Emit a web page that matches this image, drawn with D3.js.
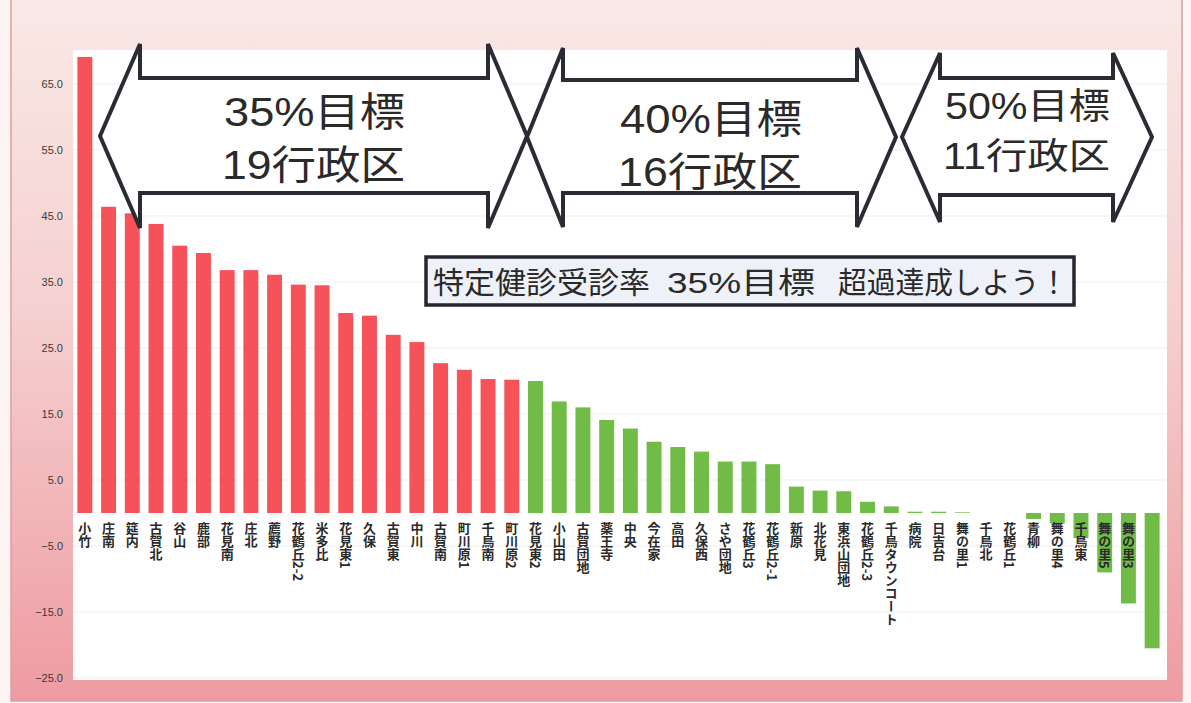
<!DOCTYPE html>
<html lang="ja">
<head>
  <meta charset="UTF-8">
  <title>特定健診受診率 行政区別</title>
  <script src="https://d3js.org/d3.v7.min.js"></script>
  <style>
    body {
      margin: 0;
      padding: 0;
      background: #fcf4f3;
      overflow: hidden;
    }
    svg {
      display: block;
    }
    .ytick {
      font-family: 'Liberation Sans', 'DejaVu Sans', sans-serif;
      font-size: 11px;
      fill: #3a3a3a;
    }
    .xlabel {
      font-family: 'Noto Sans CJK JP', sans-serif;
      font-size: 13px;
      font-weight: 700;
      fill: #2a2a2a;
    }
    .big {
      font-family: 'Liberation Sans', 'Noto Sans CJK JP', sans-serif;
      fill: #2a2a2a;
    }
    .slogan {
      font-family: 'Liberation Sans', 'Noto Sans CJK JP', sans-serif;
      font-size: 30px;
      fill: #2a2a2a;
    }
  </style>
</head>
<body>
  <svg id="chart" width="1191" height="703"></svg>
  <script>
    // 行政区 (sorted by rate, descending)
    const districts = [
      "小竹", "庄南", "筵内", "古賀北", "谷山", "鹿部", "花見南", "庄北", "薦野", "花鶴丘2-2",
      "米多比", "花見東1", "久保", "古賀東", "中川", "古賀南", "町川原1", "千鳥南", "町川原2",
      "花見東2", "小山田", "古賀団地", "薬王寺", "中央", "今在家", "高田", "久保西", "さや団地",
      "花鶴丘3", "花鶴丘2-1", "新原", "北花見", "東浜山団地", "花鶴丘2-3", "千鳥タウンコート",
      "病院", "日吉台", "舞の里1", "千鳥北", "花鶴丘1", "青柳", "舞の里4", "千鳥東", "舞の里5",
      "舞の里3", ""
    ];
    const rates = [
      69.1, 46.4, 45.4, 43.8, 40.5, 39.4, 36.8, 36.8, 36.1, 34.6,
      34.5, 30.3, 29.9, 27.0, 25.9, 22.7, 21.7, 20.3, 20.2,
      20.0, 16.9, 16.0, 14.1, 12.8, 10.8, 10.0, 9.3, 7.8,
      7.8, 7.4, 4.0, 3.4, 3.3, 1.7, 1.0,
      0.2, 0.2, 0.1, 0.0, 0.0, -0.9, -1.6, -3.8, -9.0,
      -13.7, -20.5
    ];
    const groupSizes = [19, 16, 11];
    const groupColors = ["#f5525a", "#70bc46", "#70bc46"];
    const targetLabels = ["35%目標", "40%目標", "50%目標"];
    const districtCountLabels = ["19行政区", "16行政区", "11行政区"];
    const yTicks = [-25, -15, -5, 5, 15, 25, 35, 45, 55, 65];
    const slogan = ["特定健診受診率", "35%目標", "超過達成しよう！"];

    const plot = { left: 73, right: 1167, top: 50, bottom: 680 };

    const svg = d3.select("#chart");
    const defs = svg.append("defs");

    const grad = defs.append("linearGradient")
      .attr("id", "frameGrad")
      .attr("x1", 0).attr("y1", 0).attr("x2", 0).attr("y2", 1);
    grad.append("stop").attr("offset", "0%").attr("stop-color", "#f9e9e6");
    grad.append("stop").attr("offset", "45%").attr("stop-color", "#f5d0d0");
    grad.append("stop").attr("offset", "100%").attr("stop-color", "#ee9ba2");

    // pink frame + white plot area
    svg.append("rect")
      .attr("x", 11).attr("y", -2)
      .attr("width", 1171).attr("height", 703)
      .attr("fill", "url(#frameGrad)")
      .attr("stroke", "#dc9ea2")
      .attr("stroke-width", 1.5);

    svg.append("rect")
      .attr("x", plot.left).attr("y", plot.top)
      .attr("width", plot.right - plot.left).attr("height", plot.bottom - plot.top)
      .attr("fill", "#ffffff");

    const x = d3.scaleBand()
      .domain(d3.range(districts.length))
      .range([73, 1164])
      .paddingInner(0.37)
      .paddingOuter(0.185);

    const y = d3.scaleLinear()
      .domain([-25.3, 70.15])
      .range([plot.bottom, plot.top]);

    const colorOf = i => {
      let acc = 0;
      for (let g = 0; g < groupSizes.length; g++) {
        acc += groupSizes[g];
        if (i < acc) return groupColors[g];
      }
      return groupColors[groupColors.length - 1];
    };

    // gridlines
    svg.append("g")
      .selectAll("line")
      .data(yTicks)
      .join("line")
      .attr("x1", plot.left).attr("x2", plot.right)
      .attr("y1", d => y(d)).attr("y2", d => y(d))
      .attr("stroke", "#efefef")
      .attr("stroke-width", 1);

    // y axis labels
    const yAxis = d3.axisLeft(y)
      .tickValues(yTicks)
      .tickFormat(d3.format(".1f"))
      .tickSize(0)
      .tickPadding(0);
    const yg = svg.append("g")
      .attr("transform", "translate(63,0)")
      .call(yAxis);
    yg.select(".domain").remove();
    yg.selectAll("text").attr("class", "ytick").attr("font-size", null).attr("font-family", null);

    // bars
    svg.append("g")
      .selectAll("rect")
      .data(rates)
      .join("rect")
      .attr("x", (d, i) => x(i))
      .attr("width", x.bandwidth())
      .attr("y", d => y(Math.max(0, d)))
      .attr("height", d => Math.abs(y(d) - y(0)))
      .attr("fill", (d, i) => colorOf(i));

    // category labels (vertical)
    svg.append("g")
      .selectAll("text")
      .data(districts)
      .join("text")
      .attr("class", "xlabel")
      .attr("x", (d, i) => x(i) + x.bandwidth() / 2)
      .attr("y", y(0) + 9)
      .style("writing-mode", "vertical-rl")
      .text(d => d);

    // double-headed arrows marking the target groups
    const arrows = [
      { xl: 100, xr: 527, bl: 140, br: 488, ht: 44, hb: 228, st: 78, sb: 193, cy: 136,
        fs: 40, tx: 224, tw: 181, b1: 126, b2: 179 },
      { xl: 527, xr: 896, bl: 563, br: 857, ht: 48, hb: 227, st: 80, sb: 193, cy: 137,
        fs: 40, tx: 620, tw: 182, b1: 133, b2: 186 },
      { xl: 902, xr: 1152, bl: 940, br: 1113, ht: 53, hb: 222, st: 78, sb: 195, cy: 137,
        fs: 36, tx: 945, tw: 165, b1: 119, b2: 169 }
    ];

    const arrowPath = a => {
      const p = d3.path();
      p.moveTo(a.xl, a.cy);
      p.lineTo(a.bl, a.ht);
      p.lineTo(a.bl, a.st);
      p.lineTo(a.br, a.st);
      p.lineTo(a.br, a.ht);
      p.lineTo(a.xr, a.cy);
      p.lineTo(a.br, a.hb);
      p.lineTo(a.br, a.sb);
      p.lineTo(a.bl, a.sb);
      p.lineTo(a.bl, a.hb);
      p.closePath();
      return p.toString();
    };

    const ag = svg.append("g");
    ag.selectAll("path")
      .data(arrows)
      .join("path")
      .attr("d", arrowPath)
      .attr("fill", "#ffffff")
      .attr("stroke", "#2b2b33")
      .attr("stroke-width", 4)
      .attr("stroke-linejoin", "miter");

    ag.selectAll("text.t1")
      .data(arrows)
      .join("text")
      .attr("class", "big t1")
      .attr("x", d => d.tx)
      .attr("y", d => d.b1)
      .attr("font-size", d => d.fs)
      .attr("textLength", d => d.tw)
      .attr("lengthAdjust", "spacingAndGlyphs")
      .text((d, i) => targetLabels[i]);

    ag.selectAll("text.t2")
      .data(arrows)
      .join("text")
      .attr("class", "big t2")
      .attr("x", d => d.tx - 2)
      .attr("y", d => d.b2)
      .attr("font-size", d => d.fs)
      .attr("textLength", d => d.tw + 2)
      .attr("lengthAdjust", "spacingAndGlyphs")
      .text((d, i) => districtCountLabels[i]);

    // slogan box
    const box = svg.append("g");
    box.append("rect")
      .attr("x", 426).attr("y", 257)
      .attr("width", 648).attr("height", 48)
      .attr("fill", "#eef1f7")
      .attr("stroke", "#26262e")
      .attr("stroke-width", 3.5);

    const sloganX = [433, 667, 838];
    const sloganW = [217, 148, 230];
    box.selectAll("text")
      .data(slogan)
      .join("text")
      .attr("class", "slogan")
      .attr("x", (d, i) => sloganX[i])
      .attr("y", 293)
      .attr("textLength", (d, i) => sloganW[i])
      .attr("lengthAdjust", "spacingAndGlyphs")
      .text(d => d);
  </script>
</body>
</html>
